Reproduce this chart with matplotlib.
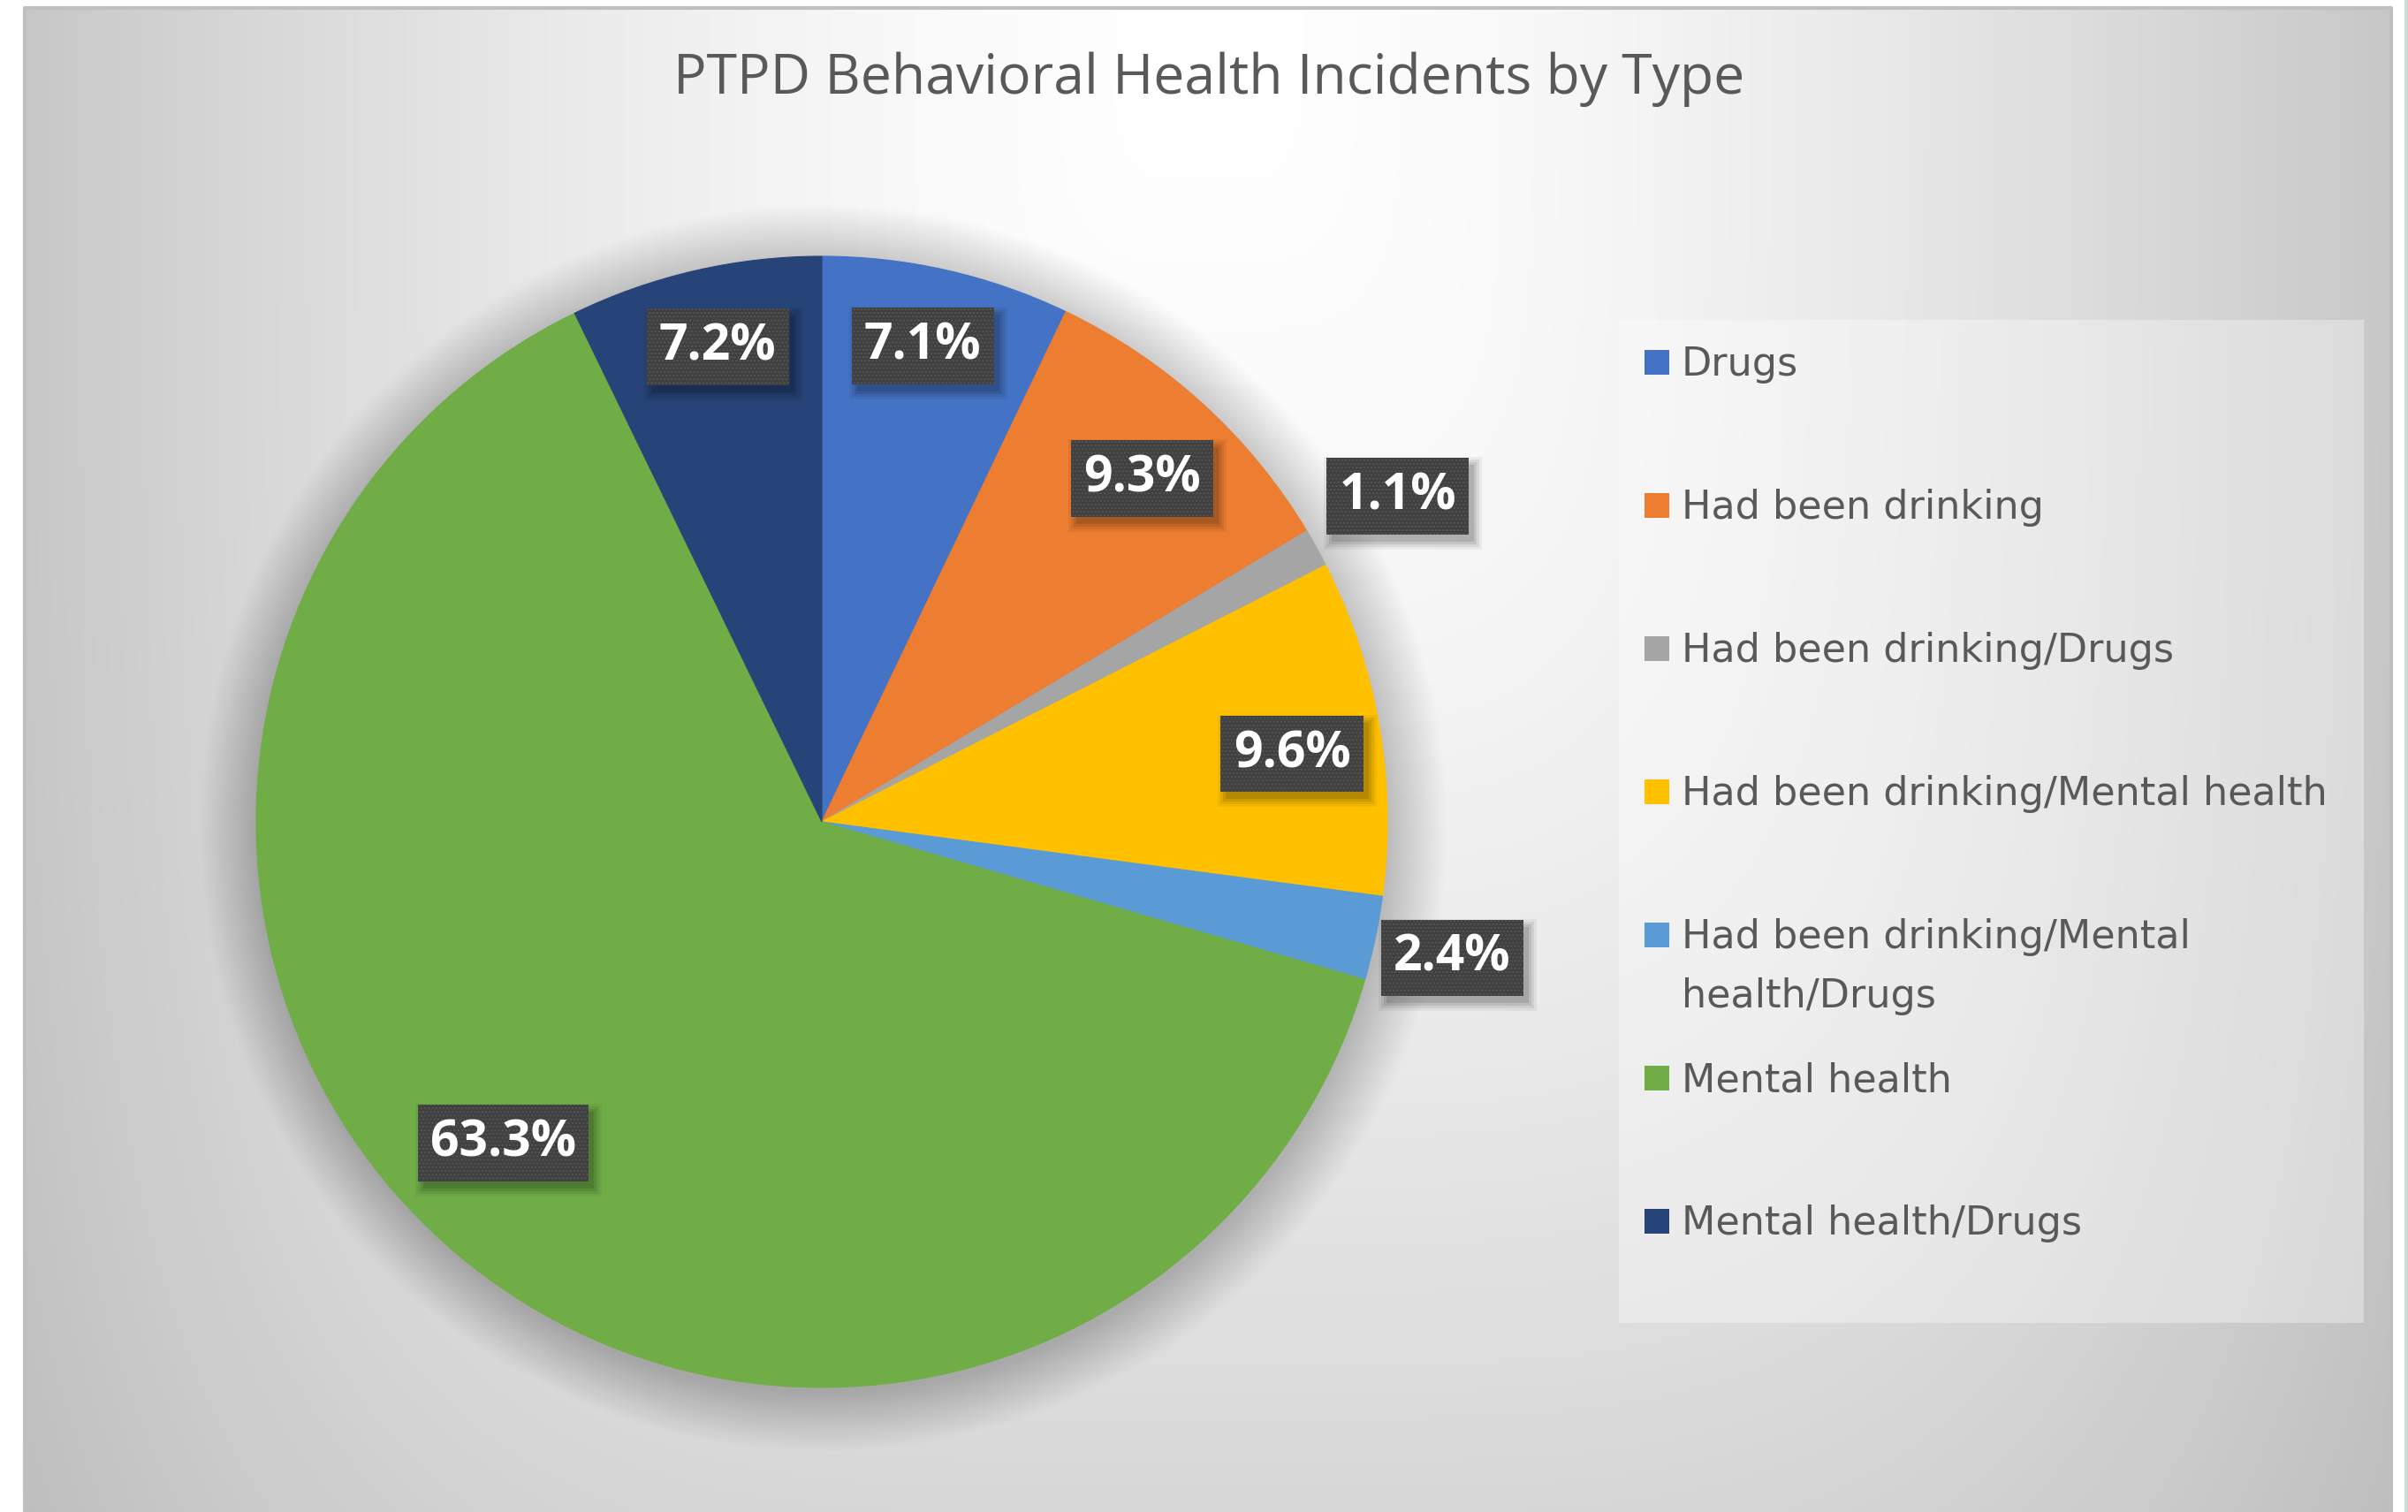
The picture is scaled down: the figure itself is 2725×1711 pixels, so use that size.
#!/usr/bin/env python3
"""PTPD behavioral health incidents pie chart (Excel-style) -> out.png"""

import matplotlib

matplotlib.use("Agg")
import matplotlib.pyplot as plt
from matplotlib.patches import Circle, Rectangle
import numpy as np

plt.rcParams["font.family"] = ["Open Sans", "DejaVu Sans"]

TITLE = "PTPD Behavioral Health Incidents by Type"
CATEGORIES = [
    "Drugs",
    "Had been drinking",
    "Had been drinking/Drugs",
    "Had been drinking/Mental health",
    "Had been drinking/Mental\nhealth/Drugs",
    "Mental health",
    "Mental health/Drugs",
]
PERCENTS = [7.1, 9.3, 1.1, 9.6, 2.4, 63.3, 7.2]
COLORS = ["#4472C4", "#ED7D31", "#A5A5A5", "#FFC000", "#5B9BD5", "#70AD47", "#264478"]

# label placement (fraction of radius) and small angular nudges, degrees
LABEL_DIST = [0.86, 0.83, 1.17, 0.84, 1.14, 0.80, 0.86]
LABEL_NUDGE = [0.8, -0.7, 0.5, -1.5, -0.3, -4.6, -0.6]

W, H = 2725, 1711
DPI = 100

fig = plt.figure(figsize=(W / DPI, H / DPI), dpi=DPI)
fig.patch.set_facecolor("white")
ax = fig.add_axes([0, 0, 1, 1])
ax.set_axis_off()

# chart area with Excel-like radial gradient (pixel coords, y up)
x0, x1, top = 28, 2706, 9
xs = np.arange(x0, x1)
ys = np.arange(top, H)
gx, gy = np.meshgrid(xs, ys)
dx = np.abs(gx - 1367) / 1400.0
dy = np.abs(gy - 40) / 2150.0
t = (dx**4 + dy**4) ** 0.25
g = 255 - 60 * np.clip(t, 0, 1.08) ** 1.6
g = np.clip(g, 0, 255) / 255.0
bg = np.dstack([g, g, g])
ax.imshow(bg, extent=(x0, x1, 0, H - top), origin="upper", zorder=0, interpolation="bilinear")
ax.plot([x0, x0, x1, x1], [0, H - top, H - top, 0], color="#bfbfbf", lw=3, zorder=1)
ax.plot([2723, 2723], [0, H], color="#cfdcd8", lw=3, zorder=1)

# pie
cx, cy, R = 930, H - 930, 640
for k in range(26):
    ax.add_patch(Circle((cx + 2, cy - 7), R + 2.6 * k, facecolor="black", alpha=0.0075,
                        edgecolor="none", zorder=2))
wedges, _ = ax.pie(
    PERCENTS,
    colors=COLORS,
    startangle=90,
    counterclock=False,
    center=(cx, cy),
    radius=R,
    wedgeprops=dict(linewidth=0.8, zorder=3),
)
for w, c in zip(wedges, COLORS):
    w.set_edgecolor(c)

ax.set_xlim(0, W)
ax.set_ylim(0, H)
ax.set_aspect("auto")

# data labels
cum = np.cumsum([0] + PERCENTS[:-1])
labels = []
for i, p in enumerate(PERCENTS):
    ang = np.deg2rad(90 - (cum[i] + p / 2) * 3.6 + LABEL_NUDGE[i])
    lx = cx + LABEL_DIST[i] * R * np.cos(ang)
    ly = cy + LABEL_DIST[i] * R * np.sin(ang)
    lab = ax.text(lx, ly, f"{p:.1f}%", ha="center", va="center", fontsize=41,
                  fontweight="bold", color="white", zorder=5,
                  bbox=dict(boxstyle="square,pad=0.25", facecolor="#404040",
                            edgecolor="#565656", linewidth=0, hatch="...."))
    labels.append(lab)

# title
ax.text(1368, H - 90, TITLE, ha="center", va="center", fontsize=45, color="#595959", zorder=5)

# legend
ax.add_patch(Rectangle((1832, H - 1497), 2675 - 1832, 1497 - 362, facecolor="white",
                       alpha=0.35, edgecolor="none", zorder=2))
row0, step, line_gap = 410, 162, 67
for i, (lab, col) in enumerate(zip(CATEGORIES, COLORS)):
    ry = H - (row0 + i * step)
    ax.add_patch(Rectangle((1861, ry - 14), 28, 28, facecolor=col, edgecolor="none", zorder=5))
    for j, line in enumerate(lab.split("\n")):
        ax.text(1903, ry - 15 - j * line_gap, line, ha="left", va="baseline", fontsize=32,
                color="#595959", zorder=5, family="DejaVu Sans")

# soft drop shadows under the data label boxes (axes data coords == pixels here)
fig.canvas.draw()
for lab in labels:
    bb = lab.get_bbox_patch().get_window_extent()
    for grow, a in [(9, 0.05), (6, 0.07), (3, 0.09), (0, 0.11)]:
        ax.add_patch(Rectangle((bb.x0 + 6 - grow, bb.y0 - 8 - grow), bb.width + 2 * grow,
                               bb.height + 2 * grow, facecolor="black", alpha=a,
                               edgecolor="none", zorder=4))

fig.savefig("out.png", dpi=DPI)
